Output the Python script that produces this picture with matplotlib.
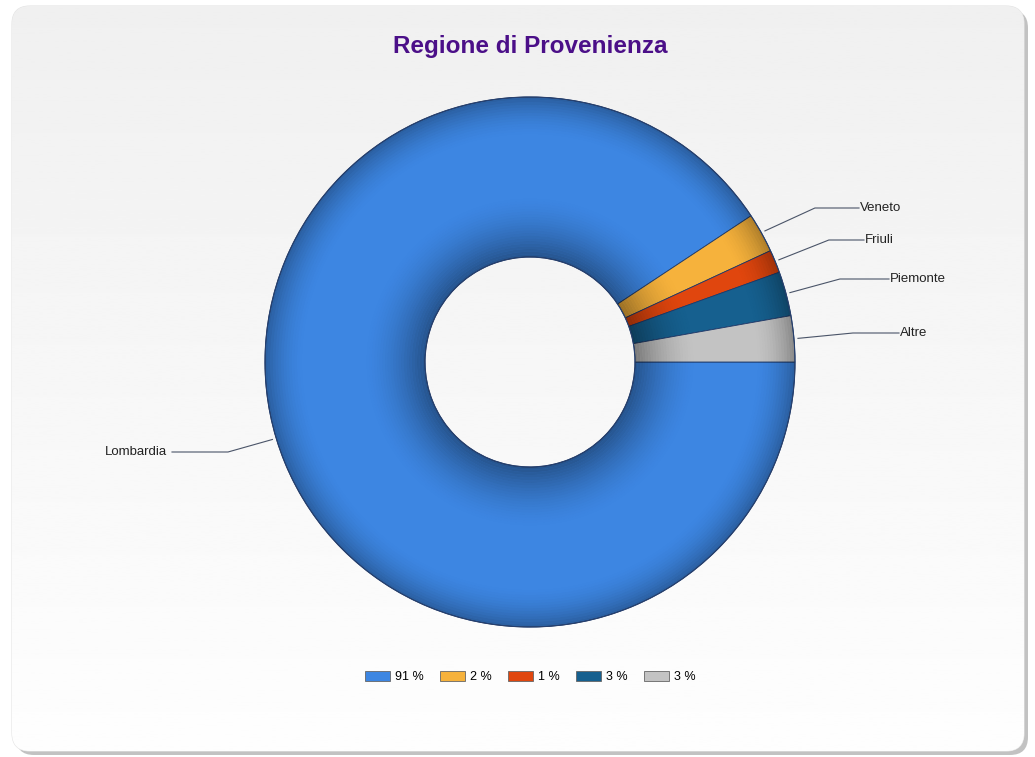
import numpy as np
import matplotlib
matplotlib.use("Agg")
from matplotlib import pyplot as plt
from matplotlib.patches import FancyBboxPatch, Wedge, Patch

# data
regions = ["Lombardia", "Veneto", "Friuli", "Piemonte", "Altre"]
shares = [90.7, 2.4, 1.4, 2.7, 2.8]
legend_labels = ["91 %", "2 %", "1 %", "3 %", "3 %"]
colors = ["#3d86e2", "#f6b23c", "#e0460e", "#16608f", "#c3c3c3"]

W, H = 1035, 757
fig = plt.figure(figsize=(W / 100, H / 100), dpi=100)
ax = fig.add_axes([0, 0, 1, 1])
ax.set_xlim(0, W)
ax.set_ylim(0, H)
ax.set_aspect("equal")
ax.axis("off")
plt.rcParams["font.family"] = ["Liberation Sans", "DejaVu Sans"]

# panel with shadow and soft vertical gradient
shadow = FancyBboxPatch((16, 2), 1012, 745, boxstyle="round,pad=0,rounding_size=18",
                        fc="#9a9a9a", ec="none", alpha=0.6, zorder=0)
ax.add_patch(shadow)
panel = FancyBboxPatch((12, 6), 1012, 745, boxstyle="round,pad=0,rounding_size=18",
                       fc="#f6f6f6", ec="#e4e4e4", lw=0.8, zorder=1)
ax.add_patch(panel)
grad = np.linspace(0.995, 0.94, 256).reshape(-1, 1)
img = ax.imshow(grad, extent=[12, 1024, 6, 751], origin="lower", cmap="gray",
                vmin=0, vmax=1, aspect="auto", zorder=1.5)
img.set_clip_path(panel)

cx, cy = 530, H - 362
r_out, r_in = 265, 105

wedges, _ = ax.pie(shares, colors=colors, center=(cx, cy), radius=r_out,
                   startangle=0, counterclock=False,
                   wedgeprops=dict(width=r_out - r_in, edgecolor="#1e3a6a", linewidth=0.6))
for w in wedges:
    w.set_zorder(3)
ax.set_xlim(0, W)
ax.set_ylim(0, H)

# bevel shading: darker near the hole and at the outer rim
n = 60
rs = np.linspace(r_in, r_out, n + 1)
for i in range(n):
    r0, r1 = rs[i], rs[i + 1]
    rm = (r0 + r1) / 2
    t_in = (rm - r_in) / 60.0
    t_out = (r_out - rm) / 40.0
    a = 0.0
    if t_in < 1:
        a += 0.38 * (1 - t_in) ** 1.6
    if t_out < 1:
        a += 0.3 * (1 - t_out) ** 1.8
    if a > 0:
        ax.add_patch(Wedge((cx, cy), r1, 0, 360, width=r1 - r0, fc="black",
                           ec="none", alpha=a, zorder=4))
ax.add_patch(Wedge((cx, cy), r_out, 0, 360, width=r_out - r_in, fc="none",
                   ec="#27406e", lw=0.8, zorder=5))

# labels with elbow leader lines
text_pos = [(105, H - 452), (860, H - 208), (865, H - 240), (890, H - 279), (900, H - 333)]
elbow_dx = [-45, 50, 50, 50, 55]
line_col = "#4a5468"
for w, name, (tx, ty), edx in zip(wedges, regions, text_pos, elbow_dx):
    mid = np.deg2rad((w.theta1 + w.theta2) / 2)
    px = cx + (r_out + 4) * np.cos(mid)
    py = cy + (r_out + 4) * np.sin(mid)
    if name == "Lombardia":
        t = ax.text(tx, ty, name, ha="left", va="center", fontsize=9.5,
                    color="#222222", zorder=6)
        ax.plot([px, 228, 172], [py, ty, ty], color=line_col, lw=0.8, zorder=6)
    else:
        ax.plot([px, px + edx, tx - 1], [py, ty, ty], color=line_col, lw=0.8, zorder=6)
        ax.text(tx, ty, name, ha="left", va="center", fontsize=9.5, color="#222222", zorder=6)

ax.text(530, H - 47, "Regione di Provenienza", ha="center", va="center",
        fontsize=17.5, fontweight="bold", color="#4b0f88", zorder=6)

handles = [Patch(fc=c, ec="#666666", lw=0.6) for c in colors]
fig.legend(handles, legend_labels, loc="center", bbox_to_anchor=(530 / W, 1 - 677 / H),
           ncol=5, frameon=False, fontsize=9, handlelength=2.0, handleheight=0.9,
           handletextpad=0.4, columnspacing=1.3)

fig.savefig("out.png", dpi=100)
